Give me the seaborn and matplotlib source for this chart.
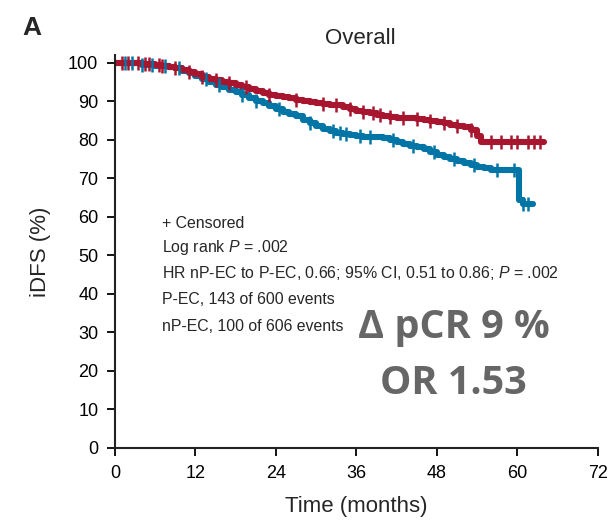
import numpy as np
import matplotlib
matplotlib.use("Agg")
import matplotlib.pyplot as plt
import seaborn as sns
import pandas as pd

# Kaplan-Meier step points
np_ec_time = [0, 2, 4, 6, 7, 8, 9, 10, 11, 12, 13, 14, 15, 16, 17, 18, 19, 20, 21, 22,
              23, 24, 25, 26, 27, 28, 29, 30, 31, 32, 33, 34, 35, 36, 37, 38, 39, 40,
              41, 42, 43, 44, 45, 46, 47, 48, 49, 50, 51, 52, 53, 54, 54.6, 58, 63.9]
np_ec_surv = [100, 99.9, 99.7, 99.4, 99.2, 99.0, 98.6, 98.2, 97.7, 97.2, 96.4, 95.9,
              95.5, 95.0, 94.7, 94.2, 93.7, 93.2, 92.7, 92.2, 91.8, 91.5, 91.2, 90.8,
              90.5, 90.2, 89.9, 89.6, 89.4, 89.2, 89.0, 88.6, 88.0, 87.6, 87.2, 86.9,
              86.5, 86.1, 85.9, 85.8, 85.7, 85.6, 85.5, 85.2, 85.0, 84.7, 84.3, 84.0,
              83.7, 83.4, 82.5, 81.0, 79.6, 79.6, 79.6]

p_ec_time = [0, 2, 4, 6, 7, 8, 9, 10, 11, 12, 13, 14, 15, 16, 17, 18, 19, 20, 21, 22,
             23, 24, 25, 26, 27, 28, 29, 30, 31, 32, 33, 34, 35, 36, 37, 38, 39, 40,
             41, 42, 43, 44, 45, 46, 47, 48, 49, 50, 51, 52, 53, 54, 55, 56, 57, 58,
             59, 60.2, 60.8, 62.3]
p_ec_surv = [100, 99.9, 99.6, 99.3, 99.1, 98.9, 98.6, 98.0, 97.3, 96.5, 95.8, 95.0,
             94.4, 93.8, 93.0, 92.4, 91.7, 91.0, 90.2, 89.5, 88.8, 88.0, 87.3, 86.7,
             86.1, 85.3, 84.5, 83.7, 82.9, 82.4, 81.9, 81.5, 81.2, 81.0, 80.9, 80.9,
             80.8, 80.6, 80.1, 79.5, 78.9, 78.5, 78.2, 77.6, 77.0, 76.2, 75.6, 75.1,
             74.6, 74.1, 73.6, 73.1, 72.6, 72.3, 72.2, 72.2, 72.2, 64.4, 63.3, 63.3]

# censored observations (months)
np_ec_cens = [1, 2, 3.5, 4.5, 5, 6.5, 7, 9, 11, 13, 15, 17, 19.5, 23, 27, 31, 33,
              35, 37, 38.5, 39.5, 41, 43, 45, 47, 49, 51, 53, 56, 57.5, 59, 60,
              61.5, 62.5, 63.3]
p_ec_cens = [1.5, 2.5, 4, 5.5, 7.5, 9.5, 13.5, 15.5, 19, 21, 24.5, 29, 32.5, 33.5,
             34.5, 36.5, 38, 41.5, 44.5, 47.5, 50.5, 53.5, 57, 59.5, 60.8, 61.6]

red = "#A8152F"
blue = "#0075A6"


def step_value(t_list, s_list, t):
    idx = np.searchsorted(t_list, t, side="right") - 1
    return s_list[max(idx, 0)]


df = pd.concat([
    pd.DataFrame({"time": np_ec_time, "surv": np_ec_surv, "arm": "nP-EC"}),
    pd.DataFrame({"time": p_ec_time, "surv": p_ec_surv, "arm": "P-EC"}),
])

sns.set_style("ticks")
plt.rcParams["font.family"] = ["Liberation Sans", "DejaVu Sans"]
plt.rcParams["mathtext.fontset"] = "custom"
plt.rcParams["mathtext.it"] = "Liberation Sans:italic"
plt.rcParams["mathtext.rm"] = "Liberation Sans"

fig = plt.figure(figsize=(6.16, 5.25), dpi=100)
ax = fig.add_axes([0.1867, 0.1467, 0.784, 0.748])

sns.lineplot(data=df, x="time", y="surv", hue="arm", palette={"nP-EC": red, "P-EC": blue},
             drawstyle="steps-post", estimator=None, linewidth=4.4, legend=False, ax=ax,
             hue_order=["P-EC", "nP-EC"])

# censor marks
ax.plot(p_ec_cens, [step_value(p_ec_time, p_ec_surv, t) for t in p_ec_cens], "|",
        color=blue, markersize=10, mew=1.8)
ax.plot(np_ec_cens, [step_value(np_ec_time, np_ec_surv, t) for t in np_ec_cens], "|",
        color=red, markersize=10, mew=1.8)

ax.set_xlim(0, 72)
ax.set_ylim(0, 102)
ax.set_xticks(range(0, 73, 12))
ax.set_yticks(range(0, 101, 10))
ax.tick_params(labelsize=13, length=6, width=1.3, pad=6, color="black", labelcolor="black")
for s in ["left", "bottom"]:
    ax.spines[s].set_linewidth(1.5)
    ax.spines[s].set_color("#222222")
sns.despine(ax=ax)

ax.set_xlabel("Time (months)", fontsize=16, labelpad=10)
ax.set_ylabel("iDFS (%)", fontsize=16, labelpad=12)

fig.text(360 / 616, 1 - 38 / 525, "Overall", fontsize=16, ha="center", va="center")
fig.text(22 / 616, 1 - 28 / 525, "A", fontsize=19, fontweight="bold", ha="left", va="center")

notes = ["+ Censored",
         "Log rank $\\mathit{P}$ = .002",
         "HR nP-EC to P-EC, 0.66; 95% CI, 0.51 to 0.86; $\\mathit{P}$ = .002",
         "P-EC, 143 of 600 events",
         "nP-EC, 100 of 606 events"]
note_y = [58.3, 52.1, 45.4, 38.5, 31.5]
for txt, y in zip(notes, note_y):
    ax.text(7.0, y, txt, fontsize=11.4, ha="left", va="center")

ax.text(50.5, 31.2, "Δ pCR 9 %", fontsize=28.5, fontweight="bold", color="#666666",
        ha="center", va="center", family=["Open Sans", "DejaVu Sans"])
ax.text(50.5, 16.8, "OR 1.53", fontsize=28.5, fontweight="bold", color="#666666",
        ha="center", va="center", family=["Open Sans", "DejaVu Sans"])

fig.savefig("out.png", dpi=100)
